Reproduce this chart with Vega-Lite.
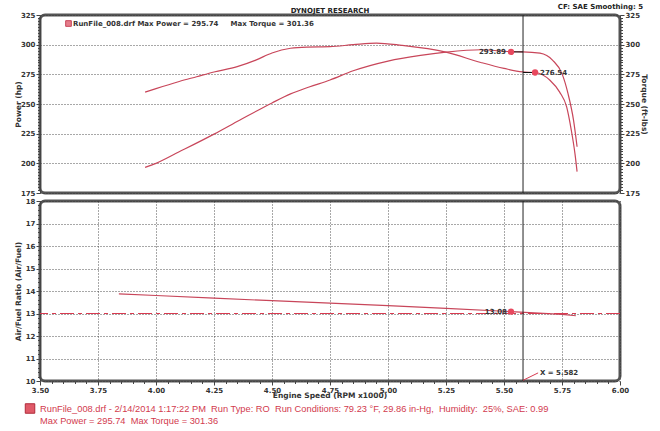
{
  "$schema": "https://vega.github.io/schema/vega-lite/v6.json",
  "background": "white",
  "padding": {"left": 12, "top": 1, "right": 4, "bottom": 2},
  "spacing": -3,
  "resolve": {"scale": {"x": "independent", "y": "independent"}, "axis": {"x": "independent", "y": "independent"}},
  "datasets": {
    "power": [
      {"rpm": 3.953, "hp": 196.6}, {"rpm": 4.0, "hp": 200.0}, {"rpm": 4.1, "hp": 209.7}, {"rpm": 4.25, "hp": 224.6},
      {"rpm": 4.36, "hp": 236.3}, {"rpm": 4.5, "hp": 250.9}, {"rpm": 4.58, "hp": 258.5}, {"rpm": 4.66, "hp": 264.3},
      {"rpm": 4.75, "hp": 270.2}, {"rpm": 4.85, "hp": 278.0}, {"rpm": 5.0, "hp": 286.2}, {"rpm": 5.14, "hp": 291.0},
      {"rpm": 5.25, "hp": 293.7}, {"rpm": 5.4, "hp": 295.7}, {"rpm": 5.53, "hp": 294.1}, {"rpm": 5.58, "hp": 294.0},
      {"rpm": 5.655, "hp": 292.8}, {"rpm": 5.71, "hp": 286.8}, {"rpm": 5.75, "hp": 275.6}, {"rpm": 5.776, "hp": 258.7},
      {"rpm": 5.8, "hp": 236.0}, {"rpm": 5.815, "hp": 214.0}
    ],
    "torque": [
      {"rpm": 3.953, "tq": 260.0}, {"rpm": 4.0, "tq": 263.0}, {"rpm": 4.1, "tq": 269.0}, {"rpm": 4.175, "tq": 273.0},
      {"rpm": 4.25, "tq": 277.0}, {"rpm": 4.35, "tq": 281.5}, {"rpm": 4.43, "tq": 287.0}, {"rpm": 4.5, "tq": 293.0},
      {"rpm": 4.58, "tq": 297.0}, {"rpm": 4.65, "tq": 298.0}, {"rpm": 4.75, "tq": 298.3}, {"rpm": 4.85, "tq": 300.0},
      {"rpm": 4.95, "tq": 301.36}, {"rpm": 5.06, "tq": 299.4}, {"rpm": 5.25, "tq": 293.7}, {"rpm": 5.4, "tq": 285.0},
      {"rpm": 5.5, "tq": 280.0}, {"rpm": 5.58, "tq": 277.0}, {"rpm": 5.634, "tq": 276.54}, {"rpm": 5.698, "tq": 270.0},
      {"rpm": 5.74, "tq": 260.0}, {"rpm": 5.77, "tq": 247.5}, {"rpm": 5.79, "tq": 228.0}, {"rpm": 5.806, "tq": 208.0},
      {"rpm": 5.815, "tq": 193.0}
    ],
    "afr": [
      {"rpm": 3.84, "afr": 13.87}, {"rpm": 4.0, "afr": 13.8}, {"rpm": 4.25, "afr": 13.68}, {"rpm": 4.5, "afr": 13.57},
      {"rpm": 4.75, "afr": 13.46}, {"rpm": 5.0, "afr": 13.35}, {"rpm": 5.25, "afr": 13.23}, {"rpm": 5.5, "afr": 13.1},
      {"rpm": 5.53, "afr": 13.08}, {"rpm": 5.65, "afr": 13.02}, {"rpm": 5.75, "afr": 12.96}, {"rpm": 5.81, "afr": 12.9}
    ]
  },
  "config": {
    "font": "DejaVu Sans",
    "view": {"stroke": "#555555", "strokeWidth": 3, "cornerRadius": 5},
    "axis": {
      "labelFont": "DejaVu Sans", "labelFontWeight": "bold", "labelFontSize": 7, "labelColor": "#333333",
      "titleFont": "DejaVu Sans", "titleFontWeight": "bold", "titleFontSize": 7.5, "titleColor": "#333333",
      "tickColor": "#444444", "domainColor": "#444444", "gridColor": "#333333", "gridDash": [1, 2],
      "labelOverlap": false, "labelFlush": false
    }
  },
  "vconcat": [
    {
      "width": 580,
      "height": 178,
      "title": {"text": "DYNOJET RESEARCH", "fontSize": 7, "font": "DejaVu Sans", "fontWeight": "bold", "color": "#222222", "offset": 3, "dy": 13.5, "anchor": "middle"},
      "layer": [
        {
          "data": {"name": "power"},
          "mark": {"type": "line", "strokeWidth": 1.2, "interpolate": "monotone"},
          "encoding": {
            "x": {"field": "rpm", "type": "quantitative", "scale": {"domain": [3.5, 6]},
              "axis": {"values": [3.5, 3.75, 4, 4.25, 4.5, 4.75, 5, 5.25, 5.5, 5.75, 6], "labels": false, "ticks": false, "domain": false, "grid": true, "gridOpacity": 0.85, "title": null}},
            "y": {"field": "hp", "type": "quantitative", "scale": {"domain": [175, 325]},
              "axis": {"orient": "left", "title": "Power (hp)", "titleX": -18,
                "values": [175,177.5,180,182.5,185,187.5,190,192.5,195,197.5,200,202.5,205,207.5,210,212.5,215,217.5,220,222.5,225,227.5,230,232.5,235,237.5,240,242.5,245,247.5,250,252.5,255,257.5,260,262.5,265,267.5,270,272.5,275,277.5,280,282.5,285,287.5,290,292.5,295,297.5,300,302.5,305,307.5,310,312.5,315,317.5,320,322.5,325],
                "labelExpr": "datum.value % 25 === 0 ? datum.label : ''",
                "grid": true,
                "gridOpacity": {"condition": {"test": "datum.value % 25 === 0", "value": 0.85}, "value": 0},
                "tickSize": {"condition": {"test": "datum.value % 25 === 0", "value": 4}, "value": 2.5},
                "labelPadding": 1}},
            "color": {"datum": "RunFile_008.drf Max Power = 295.74\u00a0\u00a0\u00a0\u00a0 Max Torque = 301.36", "type": "nominal",
              "scale": {"range": ["#c8465a"]},
              "legend": {"title": null, "orient": "none", "legendX": 25, "legendY": 5, "symbolType": "square", "symbolSize": 32,
                "symbolFillColor": "#e57d8b", "symbolStrokeColor": "#a8283c", "symbolStrokeWidth": 1,
                "labelFont": "DejaVu Sans", "labelFontWeight": "bold", "labelFontSize": 7, "labelColor": "#333333", "labelLimit": 500, "labelOffset": 1, "padding": 0}}
          }
        },
        {
          "data": {"name": "torque"},
          "mark": {"type": "line", "strokeWidth": 1.2, "interpolate": "monotone", "color": "#c8465a"},
          "encoding": {
            "x": {"field": "rpm", "type": "quantitative", "scale": {"domain": [3.5, 6]}, "axis": null},
            "y": {"field": "tq", "type": "quantitative", "scale": {"domain": [175, 325]},
              "axis": {"orient": "right", "title": "Torque (ft-lbs)", "titleX": 19,
                "values": [175,177.5,180,182.5,185,187.5,190,192.5,195,197.5,200,202.5,205,207.5,210,212.5,215,217.5,220,222.5,225,227.5,230,232.5,235,237.5,240,242.5,245,247.5,250,252.5,255,257.5,260,262.5,265,267.5,270,272.5,275,277.5,280,282.5,285,287.5,290,292.5,295,297.5,300,302.5,305,307.5,310,312.5,315,317.5,320,322.5,325],
                "labelExpr": "datum.value % 25 === 0 ? datum.label : ''",
                "grid": false,
                "tickSize": {"condition": {"test": "datum.value % 25 === 0", "value": 4}, "value": 2.5},
                "labelPadding": 1}}
          }
        },
        {
          "data": {"values": [{"from": 5.53, "to": 5.582, "val": 293.89}, {"from": 5.582, "to": 5.634, "val": 276.54}]},
          "mark": {"type": "rule", "color": "#111111", "strokeWidth": 1},
          "encoding": {
            "x": {"field": "from", "type": "quantitative", "scale": {"domain": [3.5, 6]}, "axis": null},
            "x2": {"field": "to"},
            "y": {"field": "val", "type": "quantitative", "scale": {"domain": [175, 325]}, "axis": null}
          }
        },
        {
          "data": {"values": [{"rpm": 5.582}]},
          "mark": {"type": "rule", "color": "#222222", "strokeWidth": 1},
          "encoding": {
            "x": {"field": "rpm", "type": "quantitative", "scale": {"domain": [3.5, 6]}, "axis": null}
          }
        },
        {
          "data": {"values": [{"rpm": 5.53, "val": 293.89, "label": "293.89"}, {"rpm": 5.634, "val": 276.54, "label": "276.54"}]},
          "mark": {"type": "point", "filled": true, "size": 40, "color": "#e8485e", "opacity": 1},
          "encoding": {
            "x": {"field": "rpm", "type": "quantitative", "scale": {"domain": [3.5, 6]}, "axis": null},
            "y": {"field": "val", "type": "quantitative", "scale": {"domain": [175, 325]}, "axis": null}
          }
        },
        {
          "data": {"values": [{"rpm": 5.53, "val": 293.89, "label": "293.89"}]},
          "mark": {"type": "text", "align": "right", "baseline": "middle", "dx": -5, "fontSize": 7, "fontWeight": "bold", "font": "DejaVu Sans", "color": "#333333"},
          "encoding": {
            "x": {"field": "rpm", "type": "quantitative", "scale": {"domain": [3.5, 6]}, "axis": null},
            "y": {"field": "val", "type": "quantitative", "scale": {"domain": [175, 325]}, "axis": null},
            "text": {"field": "label"}
          }
        },
        {
          "data": {"values": [{"rpm": 5.634, "val": 276.54, "label": "276.54"}]},
          "mark": {"type": "text", "align": "left", "baseline": "middle", "dx": 5, "fontSize": 7, "fontWeight": "bold", "font": "DejaVu Sans", "color": "#333333"},
          "encoding": {
            "x": {"field": "rpm", "type": "quantitative", "scale": {"domain": [3.5, 6]}, "axis": null},
            "y": {"field": "val", "type": "quantitative", "scale": {"domain": [175, 325]}, "axis": null},
            "text": {"field": "label"}
          }
        },
        {
          "data": {"values": [{"rpm": 6, "val": 325, "label": "CF: SAE  Smoothing: 5"}]},
          "mark": {"type": "text", "align": "right", "baseline": "middle", "dx": 23, "dy": -8, "fontSize": 7, "fontWeight": "bold", "font": "DejaVu Sans", "color": "#222222"},
          "encoding": {
            "x": {"field": "rpm", "type": "quantitative", "scale": {"domain": [3.5, 6]}, "axis": null},
            "y": {"field": "val", "type": "quantitative", "scale": {"domain": [175, 325]}, "axis": null},
            "text": {"field": "label"}
          }
        }
      ],
      "resolve": {"axis": {"y": "independent"}}
    },
    {
      "width": 580,
      "height": 180,
      "layer": [
        {
          "data": {"name": "afr"},
          "mark": {"type": "line", "strokeWidth": 1.2, "color": "#c8465a"},
          "encoding": {
            "x": {"field": "rpm", "type": "quantitative", "scale": {"domain": [3.5, 6]},
              "axis": {"orient": "bottom", "title": null,
                "values": [3.5,3.55,3.6,3.65,3.7,3.75,3.8,3.85,3.9,3.95,4,4.05,4.1,4.15,4.2,4.25,4.3,4.35,4.4,4.45,4.5,4.55,4.6,4.65,4.7,4.75,4.8,4.85,4.9,4.95,5,5.05,5.1,5.15,5.2,5.25,5.3,5.35,5.4,5.45,5.5,5.55,5.6,5.65,5.7,5.75,5.8,5.85,5.9,5.95,6],
                "labelExpr": "abs(datum.value*4 - round(datum.value*4)) < 0.01 ? format(datum.value, '.2f') : ''",
                "grid": true,
                "gridOpacity": {"condition": {"test": "abs(datum.value*4 - round(datum.value*4)) < 0.01", "value": 0.85}, "value": 0},
                "tickSize": {"condition": {"test": "abs(datum.value*4 - round(datum.value*4)) < 0.01", "value": 4}, "value": 2.5},
                "labelPadding": 1, "domain": false}},
            "y": {"field": "afr", "type": "quantitative", "scale": {"domain": [10, 18]},
              "axis": {"orient": "left", "title": "Air/Fuel Ratio (Air/Fuel)", "titleX": -18,
                "values": [10,10.2,10.4,10.6,10.8,11,11.2,11.4,11.6,11.8,12,12.2,12.4,12.6,12.8,13,13.2,13.4,13.6,13.8,14,14.2,14.4,14.6,14.8,15,15.2,15.4,15.6,15.8,16,16.2,16.4,16.6,16.8,17,17.2,17.4,17.6,17.8,18],
                "labelExpr": "abs(datum.value - round(datum.value)) < 0.01 ? format(datum.value, 'd') : ''",
                "grid": true,
                "gridOpacity": {"condition": {"test": "abs(datum.value - round(datum.value)) < 0.01", "value": 0.85}, "value": 0},
                "tickSize": {"condition": {"test": "abs(datum.value - round(datum.value)) < 0.01", "value": 4}, "value": 2.5},
                "labelPadding": 1}}
          }
        },
        {
          "data": {"values": [{"afr": 13}]},
          "mark": {"type": "rule", "color": "#d83a50", "strokeWidth": 1.2, "strokeDash": [14, 4, 4, 4]},
          "encoding": {
            "y": {"field": "afr", "type": "quantitative", "scale": {"domain": [10, 18]}, "axis": null}
          }
        },
        {
          "data": {"values": [{"rpm": 5.582}]},
          "mark": {"type": "rule", "color": "#222222", "strokeWidth": 1},
          "encoding": {
            "x": {"field": "rpm", "type": "quantitative", "scale": {"domain": [3.5, 6]}, "axis": null}
          }
        },
        {
          "data": {"values": [{"rpm": 5.582, "afr": 10.03}, {"rpm": 5.647, "afr": 10.36}]},
          "mark": {"type": "line", "color": "#d83a50", "strokeWidth": 1},
          "encoding": {
            "x": {"field": "rpm", "type": "quantitative", "scale": {"domain": [3.5, 6]}, "axis": null},
            "y": {"field": "afr", "type": "quantitative", "scale": {"domain": [10, 18]}, "axis": null}
          }
        },
        {
          "data": {"values": [{"rpm": 5.655, "afr": 10.36, "label": "X = 5.582"}]},
          "mark": {"type": "text", "align": "left", "baseline": "middle", "fontSize": 7, "fontWeight": "bold", "font": "DejaVu Sans", "color": "#333333"},
          "encoding": {
            "x": {"field": "rpm", "type": "quantitative", "scale": {"domain": [3.5, 6]}, "axis": null},
            "y": {"field": "afr", "type": "quantitative", "scale": {"domain": [10, 18]}, "axis": null},
            "text": {"field": "label"}
          }
        },
        {
          "data": {"values": [{"rpm": 5.53, "afr": 13.08, "label": "13.08"}]},
          "mark": {"type": "point", "filled": true, "size": 40, "color": "#e8485e", "opacity": 1},
          "encoding": {
            "x": {"field": "rpm", "type": "quantitative", "scale": {"domain": [3.5, 6]}, "axis": null},
            "y": {"field": "afr", "type": "quantitative", "scale": {"domain": [10, 18]}, "axis": null}
          }
        },
        {
          "data": {"values": [{"rpm": 5.53, "afr": 13.08, "label": "13.08"}]},
          "mark": {"type": "text", "align": "right", "baseline": "middle", "dx": -4, "fontSize": 7, "fontWeight": "bold", "font": "DejaVu Sans", "color": "#333333"},
          "encoding": {
            "x": {"field": "rpm", "type": "quantitative", "scale": {"domain": [3.5, 6]}, "axis": null},
            "y": {"field": "afr", "type": "quantitative", "scale": {"domain": [10, 18]}, "axis": null},
            "text": {"field": "label"}
          }
        }
      ],
      "resolve": {"axis": {"x": "independent", "y": "independent"}}
    },
    {
      "width": 580,
      "height": 25,
      "view": {"stroke": null},
      "data": {"values": [
        {"row": 0, "kind": "axis", "text": "Engine Speed (RPM x1000)"},
        {"row": 1, "kind": "run", "text": "RunFile_008.drf - 2/14/2014 1:17:22 PM\u00a0 Run Type: RO\u00a0 Run Conditions: 79.23 °F, 29.86 in-Hg,\u00a0 Humidity:\u00a0 25%, SAE: 0.99"},
        {"row": 2, "kind": "run", "text": "Max Power = 295.74\u00a0 Max Torque = 301.36"}
      ]},
      "layer": [
        {
          "transform": [{"filter": "datum.kind === 'axis'"}],
          "mark": {"type": "text", "align": "center", "baseline": "middle", "font": "DejaVu Sans", "fontWeight": "bold", "fontSize": 7.5, "color": "#333333"},
          "encoding": {
            "x": {"datum": 0.5, "type": "quantitative", "scale": {"domain": [0, 1]}, "axis": null},
            "y": {"field": "row", "type": "quantitative", "scale": {"domain": [2, 0]}, "axis": null},
            "text": {"field": "text"}
          }
        },
        {
          "transform": [{"filter": "datum.row === 1"}],
          "mark": {"type": "point", "shape": "square", "filled": true, "size": 90, "color": "#e05a68", "stroke": "#b02a3a", "strokeWidth": 1, "opacity": 1},
          "encoding": {
            "x": {"datum": -0.0172, "type": "quantitative", "scale": {"domain": [0, 1]}, "axis": null},
            "y": {"field": "row", "type": "quantitative", "scale": {"domain": [2, 0]}, "axis": null}
          }
        },
        {
          "transform": [{"filter": "datum.kind === 'run'"}],
          "mark": {"type": "text", "align": "left", "baseline": "middle", "font": "Liberation Sans", "fontSize": 9.3, "color": "#d23a4e"},
          "encoding": {
            "x": {"datum": 0, "type": "quantitative", "scale": {"domain": [0, 1]}, "axis": null},
            "y": {"field": "row", "type": "quantitative", "scale": {"domain": [2, 0]}, "axis": null},
            "text": {"field": "text"}
          }
        }
      ]
    }
  ]
}
